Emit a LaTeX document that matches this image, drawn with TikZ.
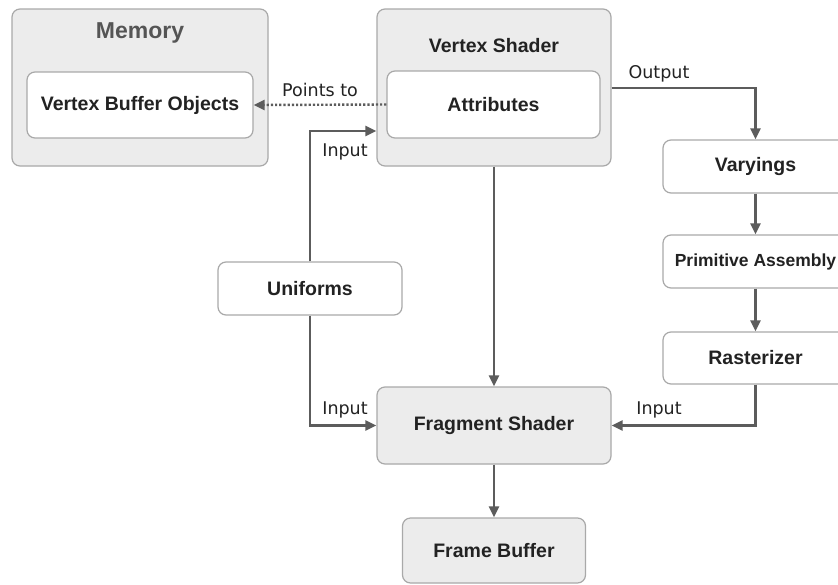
\documentclass[tikz,border=0pt]{standalone}
\usepackage{fontspec}
\setmainfont{Liberation Sans}
\newfontfamily\labelfont{DejaVu Sans}
\usetikzlibrary{arrows.meta}
\definecolor{boxline}{HTML}{A9A9A9}
\definecolor{boxfill}{HTML}{ECECEC}
\definecolor{wire}{HTML}{5C5C5C}
\definecolor{ink}{HTML}{222222}
\definecolor{titleink}{HTML}{555555}
\tikzset{
  panel/.style={draw=boxline, line width=1.2pt, rounded corners=8pt, fill=boxfill,
    inner sep=0pt, text=ink, font=\fontsize{19.5}{22}\selectfont\bfseries},
  inner/.style={panel, fill=white},
  title/.style={inner sep=0pt, text=ink, font=\fontsize{19.5}{22}\selectfont\bfseries},
  wirelabel/.style={inner sep=0pt, text=ink, font=\labelfont\fontsize{17.5}{20}\selectfont},
  arr/.style={draw=wire, line width=2.2pt, -{Triangle[length=11pt,width=10pt]}},
  dotarr/.style={arr, line width=2.4pt, dash pattern=on 2.2pt off 2pt}
}
\begin{document}
\begin{tikzpicture}[x=1pt, y=-1pt]
  \fill[white] (0,0) rectangle (838,584);
  \useasboundingbox (0,0) rectangle (838,584);

  % Memory with its buffer objects
  \node[panel, minimum width=256pt, minimum height=157pt] (mem) at (140,87.5) {};
  \node[title, text=titleink, font=\fontsize{23}{26}\selectfont\bfseries] (memt) at (140,33) {Memory};
  \node[inner, minimum width=226pt, minimum height=66pt] (vbo) at (140,105) {Vertex Buffer Objects};

  % Vertex shader with attributes
  \node[panel, minimum width=234pt, minimum height=157pt] (vs) at (494,87.5) {};
  \node[title] (vst) at (494,46) {Vertex Shader};
  \node[inner, minimum width=213pt, minimum height=67pt] (attr) at (493.5,104.5) {Attributes};

  % Right-hand pipeline
  \node[inner, minimum width=185pt, minimum height=53pt] (var) at (755.5,166.5) {Varyings};
  \node[inner, minimum width=185pt, minimum height=53pt, font=\fontsize{17.5}{20}\selectfont\bfseries] (prim) at (755.5,261.5) {Primitive Assembly};
  \node[inner, minimum width=185pt, minimum height=52pt] (rast) at (755.5,358) {Rasterizer};

  % Uniforms
  \node[inner, minimum width=184pt, minimum height=53pt] (uni) at (310,288.5) {Uniforms};

  % Fragment shader and frame buffer
  \node[panel, minimum width=234pt, minimum height=77pt] (frag) at (494,425.5) {Fragment Shader};
  \node[panel, minimum width=183pt, minimum height=65pt] (fb) at (494,550.5) {Frame Buffer};

  % Connectors
  \draw[dotarr] (attr.west) -- (vbo.east);
  \draw[arr] (uni.north) |- (vs.west |- 0,131);
  \draw[arr] (uni.south) |- (frag.west);
  \draw[arr] (vs.east |- 0,88) -| (var.north);
  \draw[arr] (var.south) -- (prim.north);
  \draw[arr] (prim.south) -- (rast.north);
  \draw[arr] (rast.south) |- (frag.east);
  \draw[arr] (vs.south) -- (frag.north);
  \draw[arr] (frag.south) -- (fb.north);

  % Connector labels
  \node[wirelabel] (lpt) at (320,90) {Points to};
  \node[wirelabel] (lin1) at (345,152) {Input};
  \node[wirelabel] (lout) at (659,74) {Output};
  \node[wirelabel] (lin2) at (345,410) {Input};
  \node[wirelabel] (lin3) at (659,410) {Input};
\end{tikzpicture}
\end{document}
